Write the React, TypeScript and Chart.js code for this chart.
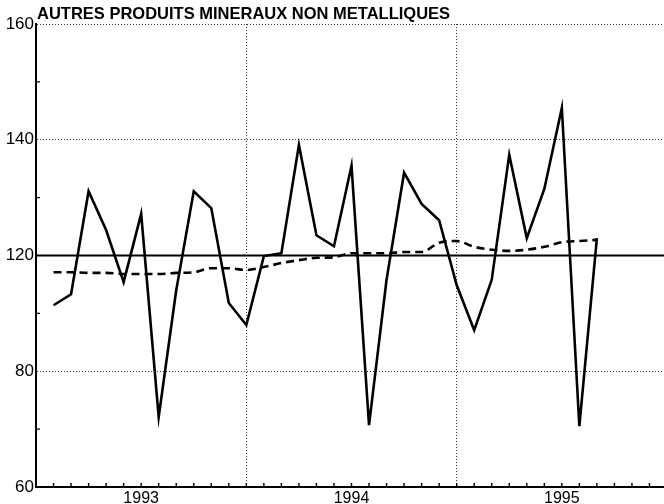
import React, { useEffect, useRef } from "react";
import { Chart, registerables } from "chart.js";

Chart.register(...registerables);

const title = "AUTRES PRODUITS MINERAUX NON METALLIQUES";
const years = ["1993", "1994", "1995"];
const monthCodes = ["01", "02", "03", "04", "05", "06", "07", "08", "09", "10", "11", "12"];
// 37 monthly category slots: Jan 1993 .. Jan 1996
const categories: string[] = [
  ...years.flatMap((y) => monthCodes.map((m) => `${y}-${m}`)),
  "1996-01",
];

// Monthly index values (Feb 1993 .. Sep 1995)
const rawSeries = [
  111.4, 113.3, 131.1, 124.4, 115.4, 127.2, 92.1, 114.0, 131.1, 128.2, 111.8, 108.0,
  119.9, 120.4, 139.1, 123.5, 121.6, 135.5, 90.7, 115.8, 134.3, 128.9, 126.1, 114.9,
  107.1, 115.8, 137.4, 123.0, 131.5, 145.5, 90.5, 123.0,
];
const trendSeries = [
  117.1, 117.1, 117.0, 117.0, 116.8, 116.8, 116.8, 117.0, 117.1, 117.8, 117.8, 117.5,
  118.0, 118.7, 119.2, 119.6, 119.7, 120.4, 120.4, 120.4, 120.6, 120.6, 122.2, 122.5,
  121.5, 121.0, 120.8, 121.0, 121.5, 122.3, 122.5, 122.7,
];
const referenceLevel = 120;

// y tick values and the labels printed on them
const yTickValues = [80, 100, 120, 140, 160];
const yTickLabels = ["60", "80", "120", "140", "160"];
const yMinorValues = [90, 110, 130, 150];

const pad = (arr: number[]) => {
  const out: (number | null)[] = categories.map(() => null);
  arr.forEach((v, i) => (out[i + 1] = v));
  return out;
};

const decorPlugin = {
  id: "decor",
  afterDraw(chart: any) {
    const { ctx, chartArea, scales } = chart;
    const xs = scales.x;
    const ys = scales.y;
    ctx.save();
    ctx.strokeStyle = "#000";
    ctx.lineWidth = 1.4;
    ctx.beginPath();
    for (let i = 0; i < categories.length; i++) {
      const x = xs.getPixelForTick(i);
      ctx.moveTo(x, chartArea.bottom);
      ctx.lineTo(x, chartArea.bottom - 4);
    }
    yMinorValues.forEach((v) => {
      const y = ys.getPixelForValue(v);
      ctx.moveTo(chartArea.left, y);
      ctx.lineTo(chartArea.left + 4, y);
    });
    ctx.stroke();
    ctx.fillStyle = "#000";
    ctx.font = 'bold 16.5px "Liberation Sans", Arial, sans-serif';
    ctx.textAlign = "left";
    ctx.textBaseline = "alphabetic";
    ctx.fillText(title, chartArea.left + 1, chartArea.top - 5);
    ctx.restore();
  },
};

export default function App() {
  const ref = useRef<HTMLCanvasElement | null>(null);
  useEffect(() => {
    if (!ref.current) return;
    Chart.defaults.font.family = '"Liberation Sans", Arial, sans-serif';
    const chart = new Chart(ref.current, {
      type: "line",
      data: {
        labels: categories,
        datasets: [
          {
            data: categories.map(() => referenceLevel),
            borderColor: "#000",
            borderWidth: 2,
            pointRadius: 0,
          },
          {
            data: pad(trendSeries),
            borderColor: "#000",
            borderWidth: 2.6,
            borderDash: [8, 5],
            pointRadius: 0,
            cubicInterpolationMode: "monotone",
          },
          {
            data: pad(rawSeries),
            borderColor: "#000",
            borderWidth: 2.6,
            pointRadius: 0,
            tension: 0,
          },
        ],
      },
      options: {
        animation: false,
        responsive: true,
        maintainAspectRatio: false,
        layout: { padding: { top: 24, right: 0, left: 0, bottom: 0 } },
        plugins: { legend: { display: false }, tooltip: { enabled: false }, title: { display: false } },
        scales: {
          x: {
            type: "category",
            offset: false,
            afterFit: (s: any) => {
              s.height = 17;
            },
            grid: {
              drawTicks: false,
              lineWidth: 1,
              color: (c: any) =>
                c.index % 12 === 0 && c.index > 0 && c.index < 36 ? "#333" : "transparent",
            },
            border: { display: true, color: "#000", width: 2, dash: [1, 2] },
            ticks: {
              autoSkip: false,
              maxRotation: 0,
              padding: 2,
              color: "#000",
              font: { size: 16 },
              callback: function (this: any, v: any) {
                const l = this.getLabelForValue(v) as string;
                return l.endsWith("-07") ? l.slice(0, 4) : "";
              },
            },
          },
          y: {
            min: 80,
            max: 160,
            afterFit: (s: any) => {
              s.width = 36;
            },
            afterBuildTicks: (s: any) => {
              s.ticks = yTickValues.map((v) => ({ value: v }));
            },
            grid: {
              drawTicks: false,
              lineWidth: 1,
              color: (c: any) => {
                const v = c.tick ? c.tick.value : null;
                return v === 160 || v === 140 || v === 100 ? "#333" : "transparent";
              },
            },
            border: { display: true, color: "#000", width: 2, dash: [1, 2] },
            ticks: {
              padding: 2,
              color: "#000",
              font: { size: 17 },
              callback: (v: any) => {
                const i = yTickValues.indexOf(Number(v));
                return i >= 0 ? yTickLabels[i] : "";
              },
            },
          },
        },
      },
      plugins: [decorPlugin],
    });
    return () => chart.destroy();
  }, []);
  return (
    <div style={{ position: "absolute", left: 0, top: 0, width: 664, height: 504, overflow: "hidden", background: "#fff" }}>
      <div style={{ position: "relative", width: 669, height: 504 }}>
        <canvas ref={ref} />
      </div>
    </div>
  );
}
